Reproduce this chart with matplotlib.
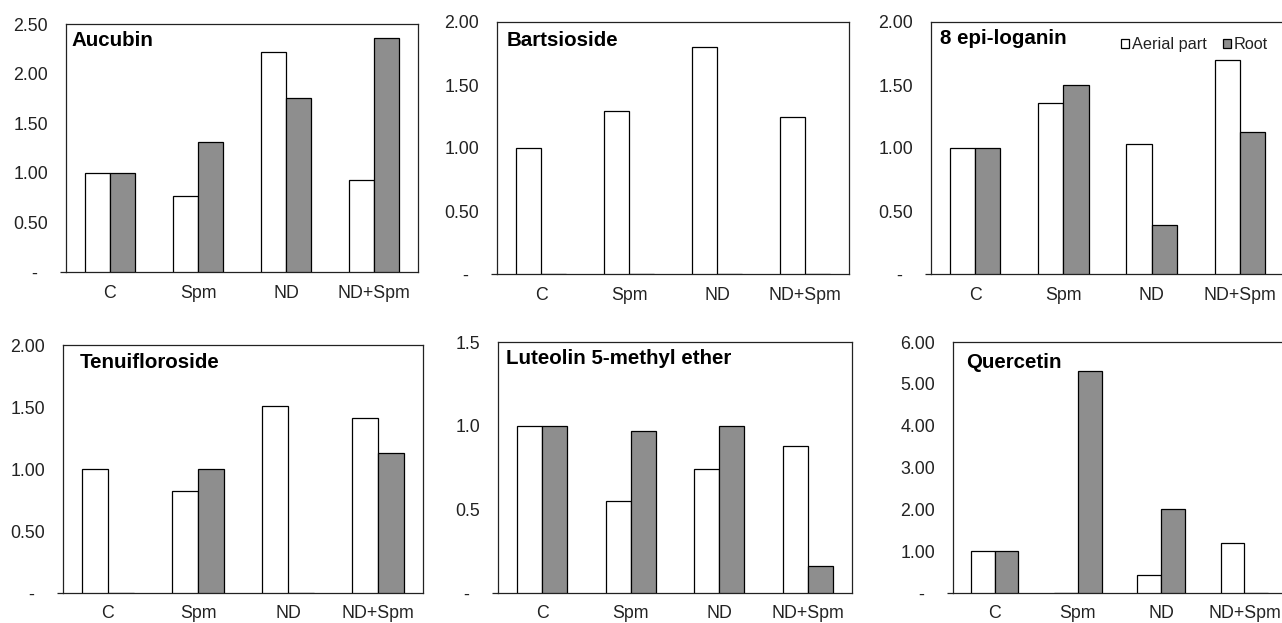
import matplotlib
matplotlib.use("Agg")
import matplotlib.pyplot as plt
from matplotlib.patches import Patch
import numpy as np

plt.rcParams['font.family'] = ['Liberation Sans', 'DejaVu Sans']

categories = ["C", "Spm", "ND", "ND+Spm"]
titles = ["Aucubin", "Bartsioside", "8 epi-loganin",
          "Tenuifloroside", "Luteolin 5-methyl ether", "Quercetin"]

aerial_aucubin = [1.00, 0.77, 2.22, 0.93]
root_aucubin = [1.00, 1.31, 1.75, 2.36]
aerial_bartsioside = [1.00, 1.29, 1.80, 1.25]
root_bartsioside = [0, 0, 0, 0]
aerial_epiloganin = [1.00, 1.36, 1.03, 1.70]
root_epiloganin = [1.00, 1.50, 0.39, 1.13]
aerial_tenuifloroside = [1.00, 0.82, 1.51, 1.41]
root_tenuifloroside = [0, 1.00, 0, 1.13]
aerial_luteolin = [1.00, 0.55, 0.74, 0.88]
root_luteolin = [1.00, 0.97, 1.00, 0.16]
aerial_quercetin = [1.00, 0, 0.42, 1.19]
root_quercetin = [1.00, 5.31, 2.01, 0]

aerial_all = [aerial_aucubin, aerial_bartsioside, aerial_epiloganin,
              aerial_tenuifloroside, aerial_luteolin, aerial_quercetin]
root_all = [root_aucubin, root_bartsioside, root_epiloganin,
            root_tenuifloroside, root_luteolin, root_quercetin]

y_max = [2.5, 2.0, 2.0, 2.0, 1.5, 6.0]
y_step = [0.5, 0.5, 0.5, 0.5, 0.5, 1.0]
y_fmt = ["{:.2f}", "{:.2f}", "{:.2f}", "{:.2f}", "{:.1f}", "{:.2f}"]

W, H = 1282, 623
fig = plt.figure(figsize=(W / 100, H / 100), dpi=100)

# pixel boxes: left, right, top, bottom
boxes = [(66, 418, 24, 272), (497, 849, 22, 274), (931, 1284, 22, 274),
         (63, 423, 345, 593), (498, 852, 342, 593), (953, 1286, 342, 593)]
title_pos = [(71, 40), (507, 40), (940, 39), (80, 363), (506, 358), (966, 363)]

grey = "#8e8e8e"
bw = 0.285
x = np.arange(len(categories))

for i in range(6):
    l, r, t, b = boxes[i]
    ax = fig.add_axes([l / W, 1 - b / H, (r - l) / W, (b - t) / H])
    ax.bar(x - bw / 2, aerial_all[i], bw, color="white", edgecolor="black",
           linewidth=0.9, zorder=3, label="Aerial part")
    ax.bar(x + bw / 2, root_all[i], bw, color=grey, edgecolor="black",
           linewidth=0.9, zorder=3, label="Root")
    ax.set_xlim(-0.5, 3.5)
    ax.set_ylim(0, y_max[i])
    ticks = np.arange(0, y_max[i] + 1e-9, y_step[i])
    ax.set_yticks(ticks)
    ax.set_yticklabels(["-  " if v == 0 else y_fmt[i].format(v) for v in ticks])
    ax.set_xticks(x)
    ax.set_xticklabels(categories)
    ax.tick_params(axis='y', length=4, width=0.9, color='#222222', pad=9,
                   labelsize=12.8, labelcolor='#222222')
    ax.tick_params(axis='x', length=0, pad=9, labelsize=12.8, colors='#222222')
    for k, tk in enumerate(ax.yaxis.get_major_ticks()):
        if k > 0:
            tk.tick1line.set_markersize(0)
    for s in ax.spines.values():
        s.set_linewidth(0.9)
        s.set_color('#222222')
    tx, ty = title_pos[i]
    fig.text(tx / W, 1 - ty / H, titles[i], fontsize=14.8, fontweight='bold',
             ha='left', va='center', color='black')
    if i == 2:
        handles = [Patch(facecolor='white', edgecolor='black', linewidth=0.9),
                   Patch(facecolor=grey, edgecolor='black', linewidth=0.9)]
        ax.legend(handles, ["Aerial part", "Root"], ncol=2, frameon=False,
                  loc='upper right', bbox_to_anchor=(0.987, 0.985),
                  handlelength=0.5, handleheight=0.5, handletextpad=0.15,
                  columnspacing=1.05, fontsize=11.7, borderaxespad=0.3,
                  labelcolor='#222222')

fig.savefig("out.png", dpi=100)
